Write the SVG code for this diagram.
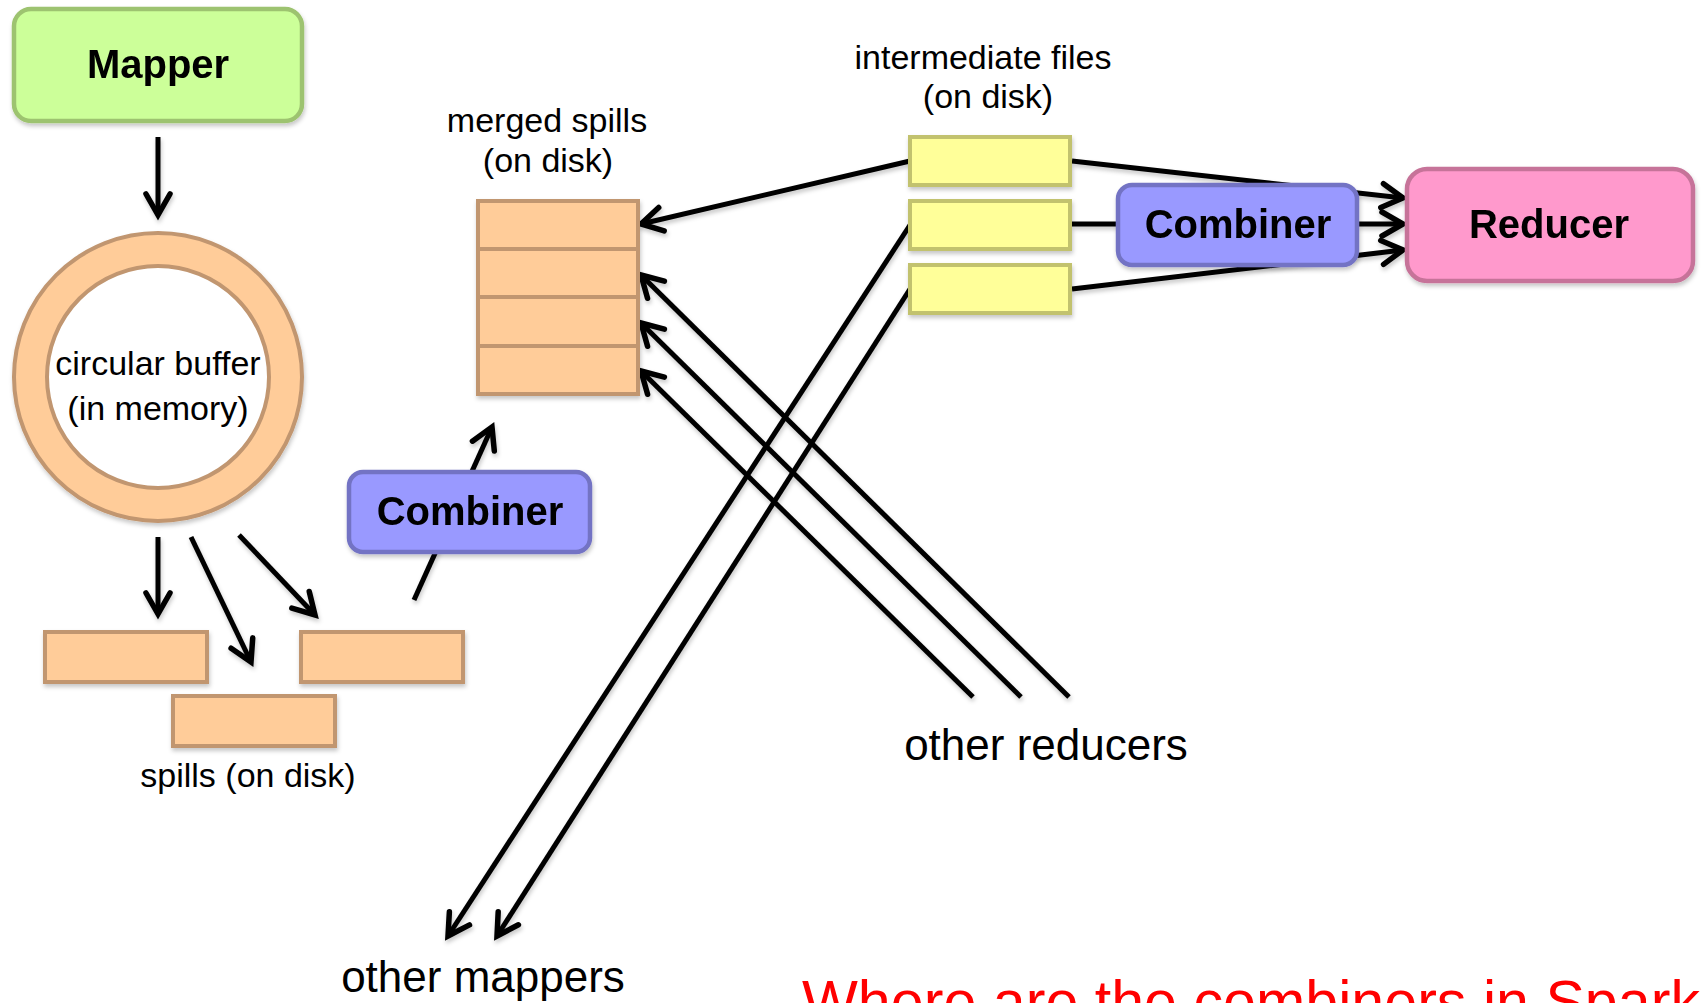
<svg xmlns="http://www.w3.org/2000/svg" width="1702" height="1003" viewBox="0 0 1702 1003">
<defs>
<filter id="sh" x="-10%" y="-10%" width="130%" height="130%">
<feDropShadow dx="1" dy="3" stdDeviation="2" flood-color="#000" flood-opacity="0.22"/>
</filter>
<marker id="ah" markerUnits="userSpaceOnUse" viewBox="-26 -16 30 32" refX="0" refY="0" markerWidth="30" markerHeight="32" orient="auto" overflow="visible">
<path d="M-21,-12 L0,0 L-21,12" fill="none" stroke="#000" stroke-width="5.5" stroke-linecap="round" stroke-linejoin="miter"/>
</marker>
</defs>
<style>
.c{stroke:#000;stroke-width:5;fill:none}
.a{marker-end:url(#ah)}
.lbl{font-family:"Liberation Sans",Arial,sans-serif;font-size:34px;fill:#000;text-anchor:middle}
.big{font-family:"Liberation Sans",Arial,sans-serif;font-size:44px;fill:#000;text-anchor:middle}
.b{font-family:"Liberation Sans",Arial,sans-serif;font-size:40px;font-weight:bold;fill:#000;text-anchor:middle}
.or{fill:#ffcc99;stroke:#c19670;stroke-width:4}
.ye{fill:#ffff99;stroke:#c2c26e;stroke-width:4}
.cb{fill:#9999ff;stroke:#7373c4;stroke-width:4.5}
</style>
<rect width="1702" height="1003" fill="#fff"/>

<g id="connectors" filter="url(#sh)">
<line class="c a" x1="158" y1="137" x2="158" y2="215"/>
<line class="c a" x1="158" y1="537" x2="158" y2="614"/>
<line class="c a" x1="191" y1="537" x2="251" y2="662"/>
<line class="c a" x1="239" y1="535" x2="315" y2="615"/>
<line class="c a" x1="414" y1="600" x2="492" y2="427"/>
<line class="c a" x1="910" y1="161" x2="641" y2="224"/>
<line class="c a" x1="1069" y1="697" x2="641" y2="275"/>
<line class="c a" x1="1021" y1="697" x2="641" y2="323"/>
<line class="c a" x1="973" y1="697" x2="641" y2="371"/>
<line class="c a" x1="910" y1="225" x2="448" y2="936"/>
<line class="c a" x1="910" y1="289" x2="497" y2="936"/>
<line class="c a" x1="1072" y1="161" x2="1403" y2="198"/>
<line class="c" x1="1072" y1="224" x2="1118" y2="224"/>
<line class="c a" x1="1358" y1="224" x2="1403" y2="224"/>
<line class="c a" x1="1072" y1="289" x2="1403" y2="250"/>
</g>

<g id="mapper" filter="url(#sh)">
<rect x="14" y="9" width="288" height="112" rx="17" fill="#ccff99" stroke="#9dc36f" stroke-width="4.5"/>
<text class="b" x="158" y="78">Mapper</text>
</g>

<g id="circular-buffer">
<circle cx="158" cy="377" r="144" class="or" filter="url(#sh)"/>
<circle cx="158" cy="377" r="111" fill="#fff" stroke="#c19670" stroke-width="4"/>
<text class="lbl" x="158" y="375">circular buffer</text>
<text class="lbl" x="158" y="420">(in memory)</text>
</g>

<g id="spills" filter="url(#sh)">
<rect class="or" x="45" y="632" width="162" height="50"/>
<rect class="or" x="301" y="632" width="162" height="50"/>
<rect class="or" x="173" y="696" width="162" height="50"/>
</g>
<text class="lbl" x="248" y="787">spills (on disk)</text>

<g id="combiner-map" filter="url(#sh)">
<rect class="cb" x="349" y="472" width="241" height="80" rx="14"/>
<text class="b" x="470" y="525">Combiner</text>
</g>

<g id="merged-spills" filter="url(#sh)">
<rect class="or" x="478" y="201" width="160" height="48"/>
<rect class="or" x="478" y="249" width="160" height="48"/>
<rect class="or" x="478" y="297" width="160" height="49"/>
<rect class="or" x="478" y="346" width="160" height="48"/>
</g>
<text class="lbl" x="547" y="132">merged spills</text>
<text class="lbl" x="548" y="172">(on disk)</text>

<g id="intermediate-files" filter="url(#sh)">
<rect class="ye" x="910" y="137" width="160" height="48"/>
<rect class="ye" x="910" y="201" width="160" height="48"/>
<rect class="ye" x="910" y="265" width="160" height="48"/>
</g>
<text class="lbl" x="983" y="69">intermediate files</text>
<text class="lbl" x="988" y="108">(on disk)</text>

<g id="combiner-reduce" filter="url(#sh)">
<rect class="cb" x="1118" y="185" width="239" height="80" rx="14"/>
<text class="b" x="1238" y="238">Combiner</text>
</g>

<g id="reducer" filter="url(#sh)">
<rect x="1407" y="169" width="286" height="112" rx="20" fill="#ff99cc" stroke="#c67399" stroke-width="4.5"/>
<text class="b" x="1549" y="238">Reducer</text>
</g>

<text class="big" x="1046" y="760">other reducers</text>
<text class="big" x="483" y="992">other mappers</text>
<text x="802" y="1022" font-family="Liberation Sans, Arial, sans-serif" font-size="60" fill="#ff0000" textLength="898" lengthAdjust="spacingAndGlyphs">Where are the combiners in Spark</text>
</svg>
